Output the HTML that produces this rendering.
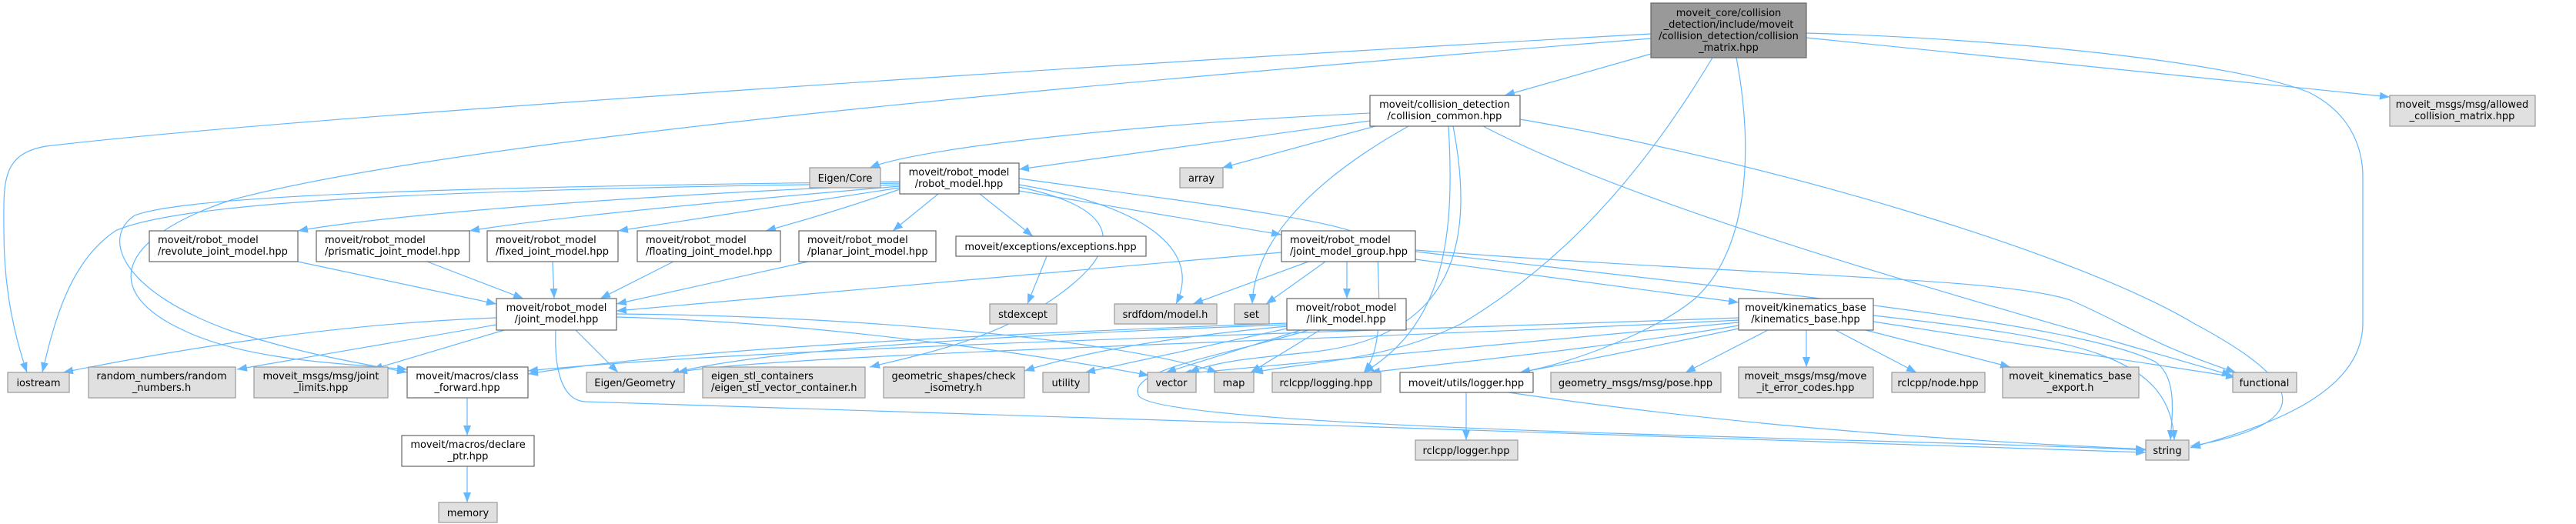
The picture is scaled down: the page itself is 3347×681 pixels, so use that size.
<!DOCTYPE html>
<html><head><meta charset="utf-8">
<style>
html,body{margin:0;padding:0;background:#fff;}
svg{display:block;}
text{font-family:"DejaVu Sans","Liberation Sans",sans-serif;font-size:13px;fill:#000;}
.g{fill:#e0e0e0;stroke:#999;stroke-width:1.2;}
.w{fill:#fff;stroke:#666;stroke-width:1.2;}
.t{fill:#999;stroke:#666;stroke-width:1.2;}
.e{fill:none;stroke:#63b8ff;stroke-width:1.2;}
</style></head><body>
<svg width="3347" height="681" viewBox="0 0 3347 681" xmlns="http://www.w3.org/2000/svg">
<defs>
<marker id="a" markerUnits="userSpaceOnUse" markerWidth="14" markerHeight="11" refX="13" refY="5" orient="auto">
<path d="M0,0 L13,5 L0,10 z" fill="#63b8ff"/>
</marker>
</defs>
<g class="edges">
<path class="e" marker-end="url(#a)" d="M2145,44 C1500,80 400,150 60,190 C0,200 5,240 5,300 C5,380 20,440 35,484"/>
<path class="e" marker-end="url(#a)" d="M2145,50 C1400,110 600,180 300,260 C150,310 130,380 240,430 C320,468 440,472 529,480"/>
<path class="e" marker-end="url(#a)" d="M2145,70 L1955,124"/>
<path class="e" marker-end="url(#a)" d="M2347,43 C2600,50 2900,80 3000,120 C3060,150 3070,200 3070,230 L3070,420 C3070,520 2920,560 2846,582"/>
<path class="e" marker-end="url(#a)" d="M2347,49 L3105,126"/>
<path class="e" marker-end="url(#a)" d="M2225,75 C2150,200 2050,330 1900,420 C1800,470 1700,470 1628,484"/>
<path class="e" marker-end="url(#a)" d="M2256,75 C2280,200 2270,330 2200,390 C2150,430 2050,470 1975,484"/>
<path class="e" marker-end="url(#a)" d="M1780,147 C1500,160 1200,190 1130,218"/>
<path class="e" marker-end="url(#a)" d="M1780,157 L1324,220"/>
<path class="e" marker-end="url(#a)" d="M1787,164 L1588,218"/>
<path class="e" marker-end="url(#a)" d="M1830,164 C1730,220 1630,300 1627,395"/>
<path class="e" marker-end="url(#a)" d="M1882,164 C1890,300 1880,420 1772,484"/>
<path class="e" marker-end="url(#a)" d="M1888,164 C1920,330 1880,440 1700,458 C1620,466 1580,470 1545,484"/>
<path class="e" marker-end="url(#a)" d="M1975,155 C2300,210 2700,330 2850,420 C3000,500 3010,550 2846,580"/>
<path class="e" marker-end="url(#a)" d="M1927,164 C2150,280 2600,400 2900,488"/>
<path class="e" marker-end="url(#a)" d="M1324,248 L1665,305"/>
<path class="e" marker-end="url(#a)" d="M1273,252 L1342,307"/>
<path class="e" marker-end="url(#a)" d="M1219,252 L1160,300"/>
<path class="e" marker-end="url(#a)" d="M1169,246 C1100,270 1050,285 995,300"/>
<path class="e" marker-end="url(#a)" d="M1169,244 C1000,270 900,285 803,300"/>
<path class="e" marker-end="url(#a)" d="M1169,242 C900,265 700,285 610,300"/>
<path class="e" marker-end="url(#a)" d="M1169,240 C800,255 500,280 387,300"/>
<path class="e" marker-end="url(#a)" d="M1169,238 C700,245 250,255 150,300 C90,340 70,420 55,484"/>
<path class="e" marker-end="url(#a)" d="M1169,236 C700,242 250,250 175,280 C130,310 160,380 300,430 C400,462 460,470 529,484"/>
<path class="e" marker-end="url(#a)" d="M1324,240 C1500,270 1560,330 1528,395"/>
<path class="e" marker-end="url(#a)" d="M1324,243 C1500,280 1420,350 1380,380 C1300,440 1200,460 1130,477"/>
<path class="e" marker-end="url(#a)" d="M1324,232 C1600,270 1780,290 1790,320 C1790,380 1800,450 1772,484"/>
<path class="e" marker-end="url(#a)" d="M387,340 L645,395"/>
<path class="e" marker-end="url(#a)" d="M555,340 L680,388"/>
<path class="e" marker-end="url(#a)" d="M718,340 L720,388"/>
<path class="e" marker-end="url(#a)" d="M875,340 L780,388"/>
<path class="e" marker-end="url(#a)" d="M1050,340 L801,395"/>
<path class="e" marker-end="url(#a)" d="M1665,328 L801,404"/>
<path class="e" marker-end="url(#a)" d="M645,413 C450,420 250,450 82,484"/>
<path class="e" marker-end="url(#a)" d="M645,422 L308,480"/>
<path class="e" marker-end="url(#a)" d="M655,429 L484,480"/>
<path class="e" marker-end="url(#a)" d="M748,429 L803,484"/>
<path class="e" marker-end="url(#a)" d="M722,429 C720,480 730,520 760,522 C1200,540 2400,570 2788,588"/>
<path class="e" marker-end="url(#a)" d="M801,412 C1100,420 1400,470 1493,488"/>
<path class="e" marker-end="url(#a)" d="M801,408 C1100,410 1450,440 1582,484"/>
<path class="e" marker-end="url(#a)" d="M1700,340 L1550,395"/>
<path class="e" marker-end="url(#a)" d="M1722,340 L1645,395"/>
<path class="e" marker-end="url(#a)" d="M1750,340 L1750,388"/>
<path class="e" marker-end="url(#a)" d="M1839,337 L2259,393"/>
<path class="e" marker-end="url(#a)" d="M1839,325 C2300,360 2600,360 2690,390 C2760,420 2800,450 2905,484"/>
<path class="e" marker-end="url(#a)" d="M1839,327 C2300,380 2700,420 2800,470 C2830,490 2822,540 2820,572"/>
<path class="e" marker-end="url(#a)" d="M1672,420 C1400,430 900,450 686,486"/>
<path class="e" marker-end="url(#a)" d="M1672,422 C1400,432 1000,450 870,486"/>
<path class="e" marker-end="url(#a)" d="M1672,424 C1500,440 1400,460 1331,482"/>
<path class="e" marker-end="url(#a)" d="M1672,427 L1410,484"/>
<path class="e" marker-end="url(#a)" d="M1690,429 L1515,484"/>
<path class="e" marker-end="url(#a)" d="M1715,429 L1625,484"/>
<path class="e" marker-end="url(#a)" d="M1700,429 C1600,460 1460,480 1480,515 C1520,560 2500,570 2788,585"/>
<path class="e" marker-end="url(#a)" d="M2259,413 C1800,430 1000,450 686,482"/>
<path class="e" marker-end="url(#a)" d="M2259,416 C1800,440 1000,460 880,484"/>
<path class="e" marker-end="url(#a)" d="M2259,419 C1900,450 1700,470 1535,486"/>
<path class="e" marker-end="url(#a)" d="M2259,423 C2100,450 1900,470 1780,484"/>
<path class="e" marker-end="url(#a)" d="M2259,427 C2150,450 2050,470 1975,484"/>
<path class="e" marker-end="url(#a)" d="M2297,429 L2190,484"/>
<path class="e" marker-end="url(#a)" d="M2347,429 L2347,477"/>
<path class="e" marker-end="url(#a)" d="M2385,429 L2490,484"/>
<path class="e" marker-end="url(#a)" d="M2424,429 L2612,477"/>
<path class="e" marker-end="url(#a)" d="M2434,418 L2905,490"/>
<path class="e" marker-end="url(#a)" d="M2434,410 C2700,440 2820,460 2825,572"/>
<path class="e" marker-end="url(#a)" d="M1905,510 L1905,572"/>
<path class="e" marker-end="url(#a)" d="M1960,510 C2300,560 2600,575 2788,584"/>
<path class="e" marker-end="url(#a)" d="M607,517 L607,566"/>
<path class="e" marker-end="url(#a)" d="M607,606 L607,653"/>
<path class="e" marker-end="url(#a)" d="M1360,333 L1335,395"/>
</g>

<rect class="t" x="2145" y="4" width="202" height="71"/>
<text x="2246" y="21" text-anchor="middle">moveit_core/collision</text>
<text x="2246" y="36" text-anchor="middle">_detection/include/moveit</text>
<text x="2246" y="51" text-anchor="middle">/collision_detection/collision</text>
<text x="2246" y="66" text-anchor="middle">_matrix.hpp</text>

<rect class="g" x="10" y="484" width="80" height="26"/><text x="50" y="502" text-anchor="middle">iostream</text>
<rect class="g" x="570" y="653" width="76" height="26"/><text x="608" y="671" text-anchor="middle">memory</text>
<rect class="g" x="762" y="484" width="127" height="26"/><text x="825" y="502" text-anchor="middle">Eigen/Geometry</text>
<rect class="g" x="1355" y="484" width="60" height="26"/><text x="1385" y="502" text-anchor="middle">utility</text>
<rect class="g" x="1491" y="484" width="63" height="26"/><text x="1522" y="502" text-anchor="middle">vector</text>
<rect class="g" x="1578" y="484" width="51" height="26"/><text x="1603" y="502" text-anchor="middle">map</text>
<rect class="g" x="1653" y="484" width="141" height="26"/><text x="1723" y="502" text-anchor="middle">rclcpp/logging.hpp</text>
<rect class="g" x="2015" y="484" width="221" height="26"/><text x="2125" y="502" text-anchor="middle">geometry_msgs/msg/pose.hpp</text>
<rect class="g" x="1839" y="572" width="133" height="26"/><text x="1905" y="590" text-anchor="middle">rclcpp/logger.hpp</text>
<rect class="g" x="1052" y="218" width="92" height="26"/><text x="1098" y="236" text-anchor="middle">Eigen/Core</text>
<rect class="g" x="1533" y="218" width="56" height="26"/><text x="1561" y="236" text-anchor="middle">array</text>
<rect class="g" x="1286" y="395" width="87" height="26"/><text x="1329" y="413" text-anchor="middle">stdexcept</text>
<rect class="g" x="1448" y="395" width="133" height="26"/><text x="1514" y="413" text-anchor="middle">srdfdom/model.h</text>
<rect class="g" x="1604" y="395" width="45" height="26"/><text x="1626" y="413" text-anchor="middle">set</text>
<rect class="g" x="2458" y="484" width="121" height="26"/><text x="2518" y="502" text-anchor="middle">rclcpp/node.hpp</text>
<rect class="g" x="2901" y="484" width="83" height="26"/><text x="2942" y="502" text-anchor="middle">functional</text>
<rect class="g" x="2788" y="572" width="56" height="26"/><text x="2816" y="590" text-anchor="middle">string</text>

<rect class="g" x="115" y="477" width="191" height="40"/><text x="210" y="493" text-anchor="middle">random_numbers/random</text><text x="210" y="508" text-anchor="middle">_numbers.h</text>
<rect class="g" x="330" y="477" width="174" height="40"/><text x="417" y="493" text-anchor="middle">moveit_msgs/msg/joint</text><text x="417" y="508" text-anchor="middle">_limits.hpp</text>
<rect class="g" x="913" y="477" width="211" height="40"/><text x="924" y="493">eigen_stl_containers</text><text x="924" y="508">/eigen_stl_vector_container.h</text>
<rect class="g" x="1148" y="477" width="183" height="40"/><text x="1239" y="493" text-anchor="middle">geometric_shapes/check</text><text x="1239" y="508" text-anchor="middle">_isometry.h</text>
<rect class="g" x="3105" y="124" width="189" height="40"/><text x="3199" y="140" text-anchor="middle">moveit_msgs/msg/allowed</text><text x="3199" y="155" text-anchor="middle">_collision_matrix.hpp</text>
<rect class="g" x="2259" y="477" width="175" height="40"/><text x="2346" y="493" text-anchor="middle">moveit_msgs/msg/move</text><text x="2346" y="508" text-anchor="middle">_it_error_codes.hpp</text>
<rect class="g" x="2602" y="477" width="177" height="40"/><text x="2690" y="493" text-anchor="middle">moveit_kinematics_base</text><text x="2690" y="508" text-anchor="middle">_export.h</text>

<rect class="w" x="529" y="477" width="157" height="40"/><text x="607" y="493" text-anchor="middle">moveit/macros/class</text><text x="607" y="508" text-anchor="middle">_forward.hpp</text>
<rect class="w" x="522" y="566" width="172" height="40"/><text x="608" y="582" text-anchor="middle">moveit/macros/declare</text><text x="608" y="597" text-anchor="middle">_ptr.hpp</text>
<rect class="w" x="194" y="300" width="193" height="40"/><text x="205" y="316">moveit/robot_model</text><text x="205" y="331">/revolute_joint_model.hpp</text>
<rect class="w" x="411" y="300" width="199" height="40"/><text x="422" y="316">moveit/robot_model</text><text x="422" y="331">/prismatic_joint_model.hpp</text>
<rect class="w" x="633" y="300" width="170" height="40"/><text x="644" y="316">moveit/robot_model</text><text x="644" y="331">/fixed_joint_model.hpp</text>
<rect class="w" x="828" y="300" width="186" height="40"/><text x="839" y="316">moveit/robot_model</text><text x="839" y="331">/floating_joint_model.hpp</text>
<rect class="w" x="1038" y="300" width="178" height="40"/><text x="1049" y="316">moveit/robot_model</text><text x="1049" y="331">/planar_joint_model.hpp</text>
<rect class="w" x="645" y="388" width="156" height="41"/><text x="723" y="404" text-anchor="middle">moveit/robot_model</text><text x="723" y="419" text-anchor="middle">/joint_model.hpp</text>
<rect class="w" x="1242" y="307" width="247" height="26"/><text x="1365" y="325" text-anchor="middle">moveit/exceptions/exceptions.hpp</text>
<rect class="w" x="1169" y="212" width="155" height="40"/><text x="1246" y="228" text-anchor="middle">moveit/robot_model</text><text x="1246" y="243" text-anchor="middle">/robot_model.hpp</text>
<rect class="w" x="1780" y="124" width="195" height="40"/><text x="1877" y="140" text-anchor="middle">moveit/collision_detection</text><text x="1877" y="155" text-anchor="middle">/collision_common.hpp</text>
<rect class="w" x="1665" y="300" width="174" height="40"/><text x="1676" y="316">moveit/robot_model</text><text x="1676" y="331">/joint_model_group.hpp</text>
<rect class="w" x="1672" y="388" width="155" height="41"/><text x="1749" y="404" text-anchor="middle">moveit/robot_model</text><text x="1749" y="419" text-anchor="middle">/link_model.hpp</text>
<rect class="w" x="1819" y="484" width="173" height="26"/><text x="1905" y="502" text-anchor="middle">moveit/utils/logger.hpp</text>
<rect class="w" x="2259" y="388" width="175" height="41"/><text x="2346" y="404" text-anchor="middle">moveit/kinematics_base</text><text x="2346" y="419" text-anchor="middle">/kinematics_base.hpp</text>
</svg>
</body></html>
